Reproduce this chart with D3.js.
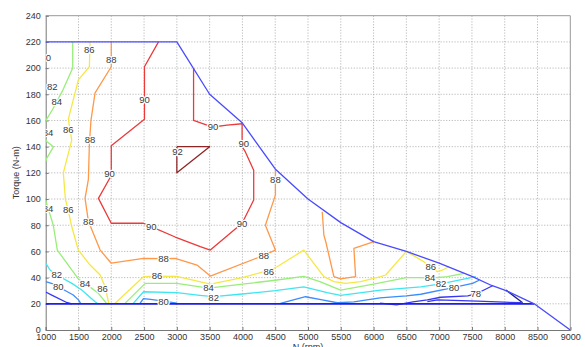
<!DOCTYPE html>
<html>
<head>
<meta charset="utf-8">
<script src="https://cdn.jsdelivr.net/npm/d3@7/dist/d3.min.js"></script>
<style>
  html, body { margin: 0; padding: 0; background: #fff; }
  svg { display: block; font-family: "Liberation Sans", Arial, sans-serif; }
</style>
</head>
<body>
<svg id="chart" width="585" height="347"></svg>
<script>
// Motor efficiency map: speed (rpm) vs torque (N-m), iso-efficiency contours in %.

const xTicks = d3.range(1000, 9001, 500);
const yTicks = d3.range(0, 241, 20);

// Operating envelope (maximum torque curve) and minimum-torque floor
const envelope = [[1000,220],[3000,220],[3500,180],[4000,158],[4500,123],[5000,100],
  [5500,82],[6000,67.5],[6500,60],[7000,51],[7500,41],[7800,34],[8000,30.5],[8450,20],[9000,0]];
const floorLine = [[1000,20],[8450,20]];

// Iso-efficiency contour segments, [rpm, torque]
const eff76 = [[8018,30.5],[8273,20.8]];
const eff78a = [[1000,29],[1100,26.5],[1320,21],[1400,20]];
const eff78b = [[6100,20.5],[6350,19.2],[6600,21.5],[6820,23],[7024,25],[7437,26],[7560,27.5],[7815,33.8]];
const eff78c = [[6820,21.6],[6974,23],[7585,22],[8250,20.8]];
const eff80a = [[1000,37],[1100,35.5],[1193,33],[1420,26.7],[1500,23],[1530,20.5]];
const eff80b = [[2440,20.5],[2491,24],[2600,23.4],[2797,22],[3000,20.5]];
const eff80c = [[4580,20.4],[4962,25.4],[5217,23],[5446,20.8],[5700,21.5],[6100,24.5],[6500,26],
  [6720,27.3],[7227,32.6],[7509,35.6],[7610,38]];
const eff82a = [[1000,51],[1066,45.8],[1168,42],[1400,35.6],[1550,30.5],[1753,21.6],[1800,20]];
const eff82b = [[2338,20.5],[2491,29.2],[3000,28.5],[3350,26.5],[3561,25.5],[4000,27.5],[4500,30],
  [4936,33],[5293,28.5],[5497,26.5],[6108,30.5],[6720,33],[7024,35.3],[7560,40.7]];
const eff84a = [[1412,220],[1412,200],[1250,182],[1100,168],[1015,161],[940,152],[1015,144],
  [1120,140],[1015,131],[940,120],[940,105],[1000,99],[1116,80],[1177,61],[1498,39],[1600,35.6],
  [1804,28],[1906,21.6],[1930,20]];
const eff84b = [[2212,20.5],[2517,35.6],[3000,35.6],[3484,32],[4000,35],[4500,38],[4936,41],
  [5181,37],[5497,30.5],[6000,35],[6500,40],[6720,40],[6872,39.5],[7125,40.7],[7380,43.3]];
const eff86a = [[1677,220],[1666,201],[1498,191],[1345,161],[1397,145],[1269,120],[1300,100],
  [1345,91],[1397,79],[1498,61],[1677,49.6],[1830,42],[1906,33],[1956,21.6],[1960,20]];
const eff86b = [[2059,20.5],[2491,40.7],[2696,41.2],[3000,41],[3510,35],[4000,40],[4420,45.8],
  [4529,48.3],[4936,61],[5242,40.7],[5395,37],[5573,35.6],[5802,37],[6108,40.7],[6184,42],
  [6500,60],[6770,52],[6872,48.3],[6974,44.5],[7050,45.8],[7151,48.3]];
const eff88a = [[2000,220],[2000,201],[1753,181],[1690,160],[1666,142],[1651,115],[1600,100.5],
  [1651,83],[1830,61],[2000,51],[2491,54.7],[2797,54.5],[2975,54.7],[3307,49.6],[3510,41.2],
  [4325,57],[4503,61],[4350,80],[4503,103],[4503,122]];
const eff88b = [[5217,90.3],[5242,72.5],[5273,67],[5395,40.7],[5497,39],[5726,40.7],[5700,62.4],[6006,67.4]];
const eff90a = [[2720,220],[2506,201],[2506,161],[2000,140.7],[2000,118],[1804,100.5],[2000,81.5],
  [2491,81.5],[2609,79],[2975,71],[3357,63.6],[3510,61],[3995,81.5],[4172,99.3],[4172,122],
  [4045,136],[3995,140],[3995,157.5]];
const eff90b = [[3255,199.6],[3255,160],[3383,157.8],[3551,155],[3765,156.5],[3995,157.5]];
const eff92 = [[3000,140],[3500,140],[3000,120],[3000,140]];

const levelColor = {76:"#1c1c88", 78:"#3636f4", 80:"#3a8cff", 82:"#3ee6f2", 84:"#98ee78",
  86:"#f6e844", 88:"#ff9848", 90:"#ec3a3a", 92:"#8e2626"};

const contours = [
  {level:76, pts:eff76}, {level:78, pts:eff78a}, {level:78, pts:eff78b}, {level:78, pts:eff78c},
  {level:80, pts:eff80a}, {level:80, pts:eff80b}, {level:80, pts:eff80c},
  {level:82, pts:eff82a}, {level:82, pts:eff82b},
  {level:84, pts:eff84a}, {level:84, pts:eff84b},
  {level:86, pts:eff86a}, {level:86, pts:eff86b},
  {level:88, pts:eff88a}, {level:88, pts:eff88b},
  {level:90, pts:eff90a}, {level:90, pts:eff90b},
  {level:92, pts:eff92}
];

// Inline contour labels: value and anchor in data coordinates
const labelValues = [80,82,84,84,84,86,86,88,88,90,90,90,
  86,86,88,88,90,92,90,90,90,
  80,82,84,86,80,82,84,86,88,88,
  86,84,82,80,78];
const labelRpm = [1000,1100,1168,1035,1035,1666,1345,2000,1677,2506,1972,1345,
  1865,2696,1651,2797,2609,3011,3551,4019,3995,
  1193,1168,1600,1345,2797,3561,3484,4401,4325,4503,
  6872,6860,7030,7227,7560];
const labelTorque = [208,186,174,151,93,214,153,206.7,145.6,175.6,119.6,92,
  31.8,41.2,82.7,54.2,79,136,155,142.5,81.5,
  33,42,35,92,22,25,32,44.5,57,114.5,
  48.3,40,35,32.6,27.5];

const svg = d3.select("#chart");
const margin = {left: 45.7, right: 570.3, top: 15.7, bottom: 330};
const x = d3.scaleLinear().domain([1000, 9000]).range([margin.left, margin.right]);
const y = d3.scaleLinear().domain([0, 240]).range([margin.bottom, margin.top]);

svg.append("defs").append("clipPath").attr("id", "plotClip")
  .append("rect").attr("x", margin.left).attr("y", margin.top)
  .attr("width", margin.right - margin.left).attr("height", margin.bottom - margin.top);

// Dotted grid
const grid = svg.append("g");
grid.selectAll("line.gx").data(xTicks.slice(1, -1)).join("line")
  .attr("x1", d => x(d)).attr("x2", d => x(d))
  .attr("y1", margin.top).attr("y2", margin.bottom)
  .attr("stroke", "#a8a8a8").attr("stroke-width", 0.8).attr("stroke-dasharray", "1.2,1.6");
grid.selectAll("line.gy").data(yTicks.slice(1, -1)).join("line")
  .attr("y1", d => y(d)).attr("y2", d => y(d))
  .attr("x1", margin.left).attr("x2", margin.right)
  .attr("stroke", "#a8a8a8").attr("stroke-width", 0.8).attr("stroke-dasharray", "1.2,1.6");

// Axes
const xAxis = d3.axisBottom(x).tickValues(xTicks).tickSize(-3).tickPadding(4).tickFormat(d3.format("d"));
const yAxis = d3.axisLeft(y).tickValues(yTicks).tickSize(-3).tickPadding(5).tickFormat(d3.format("d"));
const gx = svg.append("g").attr("transform", `translate(0,${margin.bottom})`).call(xAxis);
const gy = svg.append("g").attr("transform", `translate(${margin.left},0)`).call(yAxis);
[gx, gy].forEach(g => {
  g.select(".domain").attr("stroke", "#777");
  g.selectAll(".tick line").attr("stroke", "#777");
  g.selectAll(".tick text").attr("fill", "#333").attr("font-size", 9)
    .attr("font-family", "'Liberation Sans', Arial, sans-serif");
});
// Top and right frame
svg.append("path")
  .attr("d", `M${margin.left},${margin.top}H${margin.right}V${margin.bottom}`)
  .attr("fill", "none").attr("stroke", "#999").attr("stroke-width", 1);

const plot = svg.append("g").attr("clip-path", "url(#plotClip)");
const line = d3.line().x(d => x(d[0])).y(d => y(d[1]));

// Contour lines
plot.selectAll("path.contour").data(contours).join("path")
  .attr("class", "contour")
  .attr("d", d => line(d.pts))
  .attr("fill", "none")
  .attr("stroke", d => levelColor[d.level])
  .attr("stroke-width", 1.3)
  .attr("stroke-linejoin", "round");

// Envelope and floor
plot.append("path").attr("d", line(floorLine)).attr("fill", "none")
  .attr("stroke", "#1e1ee8").attr("stroke-width", 1.8);
plot.append("path").attr("d", line(envelope)).attr("fill", "none")
  .attr("stroke", "#4a4aff").attr("stroke-width", 1.3).attr("stroke-linejoin", "round");

// Contour labels with a white halo that breaks the line underneath
const labels = labelValues.map((v, i) => ({v, rpm: labelRpm[i], tq: labelTorque[i]}));
plot.selectAll("text.clabel").data(labels).join("text")
  .attr("class", "clabel")
  .attr("x", d => x(d.rpm)).attr("y", d => y(d.tq))
  .attr("dy", "0.35em")
  .attr("text-anchor", "middle")
  .attr("font-size", 9.5)
  .attr("fill", "#3a3a3a")
  .attr("stroke", "#fff").attr("stroke-width", 2.5).attr("paint-order", "stroke")
  .text(d => d.v);

// Axis titles
svg.append("text")
  .attr("transform", `translate(19,${(margin.top + margin.bottom) / 2}) rotate(-90)`)
  .attr("text-anchor", "middle").attr("font-size", 9).attr("fill", "#333")
  .text("Torque (N-m)");
svg.append("text")
  .attr("x", (margin.left + margin.right) / 2).attr("y", 349.5)
  .attr("text-anchor", "middle").attr("font-size", 9).attr("fill", "#333")
  .text("N (rpm)");
</script>
</body>
</html>
